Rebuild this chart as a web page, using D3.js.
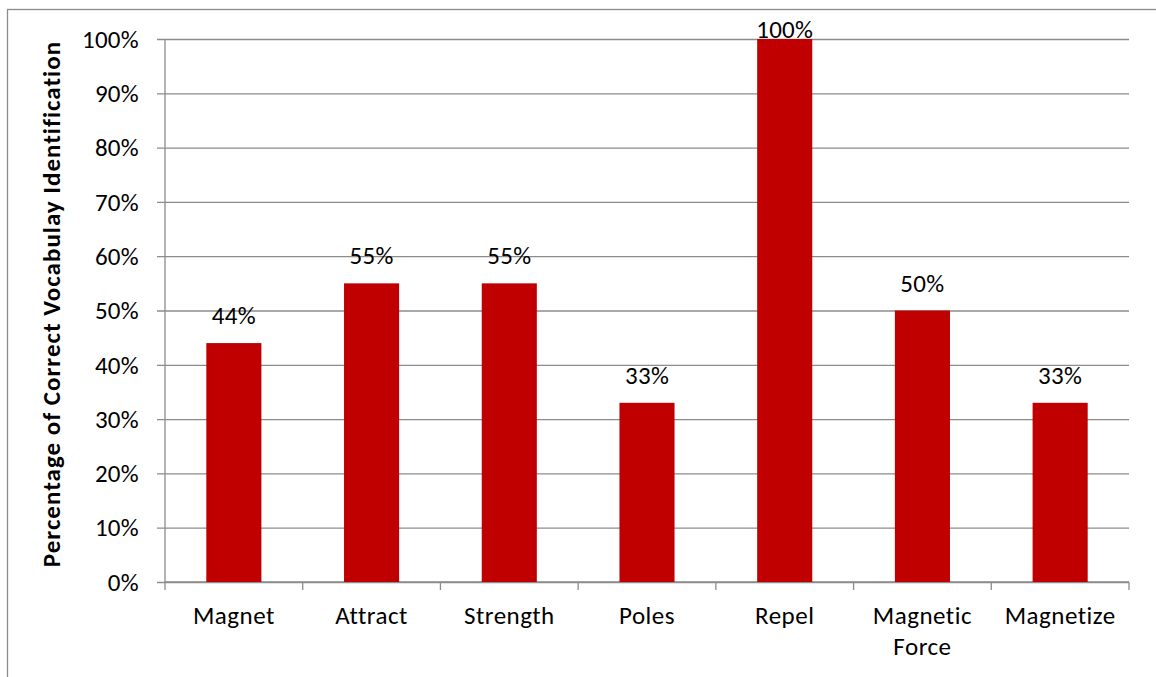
<!DOCTYPE html>
<html>
<head>
<meta charset="utf-8">
<script src="https://cdn.jsdelivr.net/npm/d3@7"></script>
<style>
  html, body { margin: 0; padding: 0; background: #fff; }
  svg { display: block; }
  text { font-family: Carlito, Calibri, Lato, "Open Sans", sans-serif; fill: #000; }
</style>
</head>
<body>
<svg id="chart" width="1156" height="677"></svg>
<script>
// Vocabulary items and share of students who identified each correctly
const categories = ["Magnet", "Attract", "Strength", "Poles", "Repel", "Magnetic Force", "Magnetize"];
const values = [0.44, 0.55, 0.55, 0.33, 1.00, 0.50, 0.33];
const yTicks = [0, 0.1, 0.2, 0.3, 0.4, 0.5, 0.6, 0.7, 0.8, 0.9, 1.0];
const yTitle = "Percentage of Correct Vocabulay Identification";

const svg = d3.select("#chart");
const margin = { left: 165, right: 27, top: 39, bottom: 95 };
const W = 1156, H = 677;
const plotW = W - margin.left - margin.right;
const plotH = H - margin.top - margin.bottom;
const FS = 25;

// outer chart frame
svg.append("rect")
  .attr("x", 7.5).attr("y", 9.5)
  .attr("width", 1160).attr("height", 680)
  .attr("fill", "none").attr("stroke", "#8c8c8c").attr("stroke-width", 1.3);

const g = svg.append("g").attr("transform", `translate(${margin.left},${margin.top})`);

const x = d3.scaleBand().domain(categories).range([0, plotW]).paddingInner(0.6).paddingOuter(0.3);
const xEdges = d3.scaleBand().domain(categories).range([0, plotW]);
const y = d3.scaleLinear().domain([0, 1]).range([plotH, 0]);

// horizontal gridlines with outside ticks
const yAxis = d3.axisLeft(y).tickValues(yTicks).tickFormat(d3.format(".0%"))
  .tickSize(8).tickPadding(18);
const ya = g.append("g").call(yAxis);
ya.attr("font-size", null).attr("font-family", null);
ya.select(".domain").attr("stroke", "#8c8c8c").attr("stroke-width", 1.3).attr("d", `M0,${plotH}V0`);
ya.selectAll(".tick line").attr("stroke", "#8c8c8c").attr("stroke-width", 1.3)
  .attr("x1", -8).attr("x2", plotW);
ya.selectAll(".tick text").attr("font-size", FS).attr("letter-spacing", 0.3)
  .attr("dy", "0.33em");

// category axis with tick marks between groups
const xb = g.append("g").attr("transform", `translate(0,${plotH})`);
xb.append("line").attr("x1", 0).attr("x2", plotW).attr("y1", 0).attr("y2", 0)
  .attr("stroke", "#8c8c8c").attr("stroke-width", 1.3);
const edges = categories.map(c => xEdges(c)).concat([plotW]);
xb.selectAll("line.tk").data(edges).join("line").attr("class", "tk")
  .attr("x1", d => d).attr("x2", d => d).attr("y1", 0).attr("y2", 8)
  .attr("stroke", "#8c8c8c").attr("stroke-width", 1.3);

const labels = xb.selectAll("text.cat").data(categories).join("text").attr("class", "cat")
  .attr("text-anchor", "middle").attr("font-size", FS).attr("letter-spacing", 0.5)
  .attr("transform", d => `translate(${x(d) + x.bandwidth() / 2},42)`);
labels.each(function(d) {
  const parts = d.split(" ");
  d3.select(this).selectAll("tspan").data(parts).join("tspan")
    .attr("x", 0).attr("dy", (p, i) => i === 0 ? 0 : 31).text(p => p);
});

// bars
g.selectAll("rect.bar").data(values).join("rect").attr("class", "bar")
  .attr("x", (d, i) => x(categories[i]))
  .attr("width", x.bandwidth())
  .attr("y", d => y(d))
  .attr("height", d => plotH - y(d))
  .attr("fill", "#c00000");

// value labels above bars
g.selectAll("text.val").data(values).join("text").attr("class", "val")
  .attr("text-anchor", "middle").attr("font-size", FS).attr("letter-spacing", 0.3)
  .attr("x", (d, i) => x(categories[i]) + x.bandwidth() / 2)
  .attr("y", d => Math.max(y(d) - 19, -1))
  .text(d => d3.format(".0%")(d));

// y-axis title
svg.append("text")
  .attr("transform", `translate(60,304) rotate(-90)`)
  .attr("text-anchor", "middle").attr("font-size", FS).attr("font-weight", "bold")
  .attr("letter-spacing", 1.0)
  .text(yTitle);
</script>
</body>
</html>
